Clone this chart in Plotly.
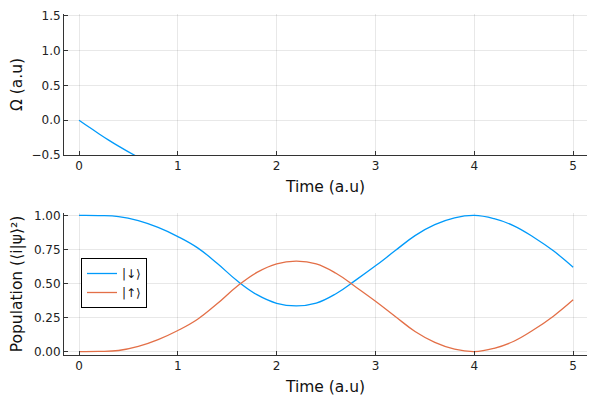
import plotly.graph_objects as go
from plotly.subplots import make_subplots

# Top panel: Omega vs time (clipped at -0.5 by axis range)
t_omega = [0.0, 0.1, 0.2, 0.3, 0.4, 0.5, 0.6, 0.7]
omega = [0.0, -0.098, -0.194, -0.286, -0.373, -0.455, -0.532, -0.603]

# Bottom panel: populations
t_pop = [0.0, 0.2, 0.4, 0.6, 0.8, 1.0, 1.2, 1.4, 1.6, 1.8, 2.0, 2.2, 2.4,
         2.6, 2.8, 3.0, 3.2, 3.4, 3.6, 3.8, 4.0, 4.2, 4.4, 4.6, 4.8, 5.0]
pop_down = [1.0, 0.999, 0.992, 0.962, 0.912, 0.845, 0.762, 0.647, 0.52, 0.418,
            0.355, 0.336, 0.356, 0.425, 0.525, 0.63, 0.742, 0.852, 0.932, 0.982,
            1.0, 0.976, 0.924, 0.84, 0.74, 0.62]
pop_up = [0.0, 0.001, 0.008, 0.038, 0.088, 0.155, 0.238, 0.353, 0.48, 0.582,
          0.645, 0.664, 0.644, 0.575, 0.475, 0.37, 0.258, 0.148, 0.068, 0.018,
          0.0, 0.024, 0.076, 0.16, 0.26, 0.38]

x_ticks = [0, 1, 2, 3, 4, 5]
blue = "#009AFA"
orange = "#E36F47"
font = "DejaVu Sans"

# page has an 8px body margin: figure is 592x392 placed at (8, 8)
W, H, OFF = 592, 392, 8


def fx(px):
    return (px - OFF) / W


def fy(py):
    return 1 - (py - OFF) / H


line_opts = dict(width=1.3, shape="spline", smoothing=1.2, simplify=False)

fig = make_subplots(rows=2, cols=1)
fig.add_trace(go.Scatter(x=t_omega, y=omega, mode="lines",
                         line=dict(color=blue, **line_opts),
                         showlegend=False), row=1, col=1)
fig.add_trace(go.Scatter(x=t_pop, y=pop_down, mode="lines", name="|↓⟩",
                         line=dict(color=blue, **line_opts)), row=2, col=1)
fig.add_trace(go.Scatter(x=t_pop, y=pop_up, mode="lines", name="|↑⟩",
                         line=dict(color=orange, **line_opts)), row=2, col=1)

axis_common = dict(showline=True, linecolor="#333333", linewidth=1, mirror=False,
                   ticks="inside", ticklen=4, tickcolor="#333333", automargin=False,
                   showgrid=True, gridcolor="rgba(0,0,0,0.09)", gridwidth=1,
                   zeroline=False, tickfont=dict(family=font, size=12, color="#222"))

fig.update_xaxes(**axis_common, range=[-0.152, 5.14], tickvals=x_ticks,
                 domain=[fx(64), fx(587)],
                 title=dict(text="Time (a.u)", font=dict(family=font, size=15.5, color="#111"), standoff=8))
fig.update_yaxes(**axis_common)
fig.update_yaxes(range=[-0.5, 1.525], tickvals=[-0.5, 0, 0.5, 1.0, 1.5], tickformat=".1f",
                 domain=[fy(155), fy(14)], row=1, col=1,
                 title=dict(text="Ω (a.u)", font=dict(family=font, size=15.5, color="#111"), standoff=12))
fig.update_yaxes(range=[-0.025, 1.018], tickvals=[0, 0.25, 0.5, 0.75, 1.0], tickformat=".2f",
                 domain=[fy(355), fy(213)], row=2, col=1,
                 title=dict(text="Population (⟨i|ψ⟩²)", font=dict(family=font, size=15.5, color="#111"), standoff=11))

fig.update_layout(width=W, height=H, margin=dict(l=0, r=0, t=0, b=0, autoexpand=False),
                  plot_bgcolor="white", paper_bgcolor="white",
                  legend=dict(x=fx(81), y=fy(258), xanchor="left", yanchor="top",
                              bordercolor="black", borderwidth=1, bgcolor="white",
                              font=dict(family=font, size=12, color="#111"),
                              tracegroupgap=0, itemwidth=30),
                  showlegend=True)

fig.write_html("out.html")
